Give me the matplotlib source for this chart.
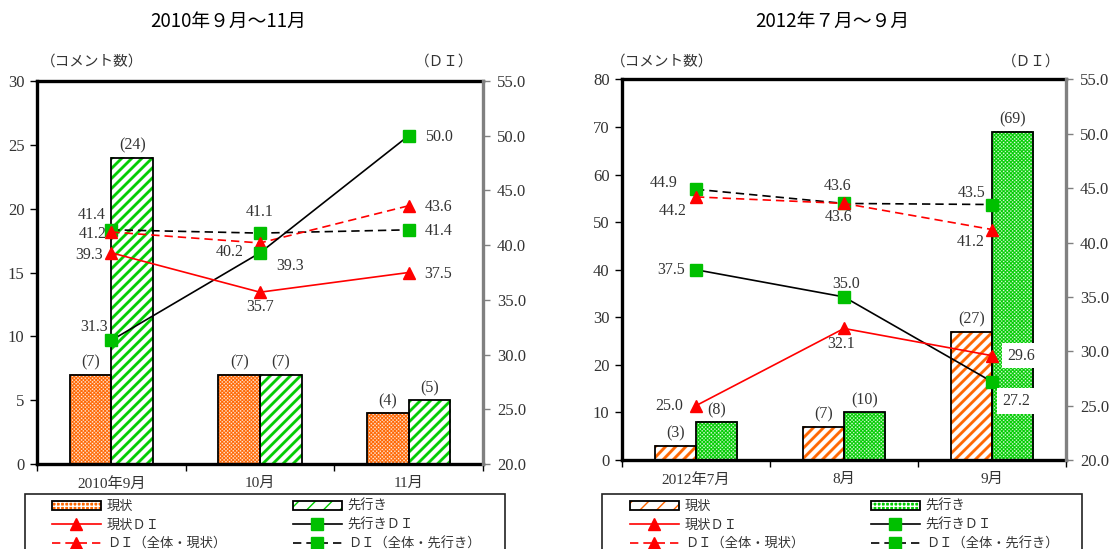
import matplotlib
matplotlib.use("Agg")
import matplotlib.pyplot as plt
from matplotlib.patches import Rectangle
from matplotlib.legend_handler import HandlerTuple
from matplotlib.ticker import FormatStrFormatter, FixedLocator, NullFormatter
from matplotlib.colors import to_rgb
import numpy as np

plt.rcParams['font.family'] = ['Liberation Serif', 'Noto Sans CJK JP', 'DejaVu Sans']

TEXT = '#333333'
ORANGE = '#FF6600'
GREEN = '#00CC00'
MARK_GREEN = '#00C000'
RED = '#FF0000'
GRAY = '#808080'

# ---------------- data ----------------
months_2010 = ["2010年9月", "10月", "11月"]
now_count_2010 = [7, 7, 4]
outlook_count_2010 = [24, 7, 5]
now_di_2010 = [39.3, 35.7, 37.5]
outlook_di_2010 = [31.3, 39.3, 50.0]
total_now_di_2010 = [41.2, 40.2, 43.6]
total_outlook_di_2010 = [41.4, 41.1, 41.4]

months_2012 = ["2012年7月", "8月", "9月"]
now_count_2012 = [3, 7, 27]
outlook_count_2012 = [8, 10, 69]
now_di_2012 = [25.0, 32.1, 29.6]
outlook_di_2012 = [37.5, 35.0, 27.2]
total_now_di_2012 = [44.2, 43.6, 41.2]
total_outlook_di_2012 = [44.9, 43.6, 43.5]

count_ticks_2010 = [0, 5, 10, 15, 20, 25, 30]
count_ticks_2012 = [0, 10, 20, 30, 40, 50, 60, 70, 80]
di_ticks = [20.0, 25.0, 30.0, 35.0, 40.0, 45.0, 50.0, 55.0]

legend_labels_left = ["現状", "現状ＤＩ", "ＤＩ（全体・現状）"]
legend_labels_right = ["先行き", "先行きＤＩ", "ＤＩ（全体・先行き）"]

# ---------------- layout (pixels) ----------------
W, H = 1114, 549
fig = plt.figure(figsize=(W / 100, H / 100), dpi=100)


def fx(px):
    return px / W


def fy(py):
    return 1 - py / H


# value-label placement: (dx px, dy px up, ha, boxed)
labels_2010 = {
    'total_out': [(-6, 15, 'right', False), (0, 21, 'center', False), (16, -1, 'left', False)],
    'total_now': [(-5, -2, 'right', False), (-16, -9, 'right', False), (16, -1, 'left', False)],
    'now':       [(-8, -2, 'right', False), (0, -15, 'center', False), (16, -1, 'left', False)],
    'out':       [(-3, 13, 'right', False), (16, -13, 'left', False), (16, -1, 'left', False)],
}
labels_2012 = {
    'total_out': [(-18, 6, 'right', False), (-6, 17, 'center', False), (-7, 12, 'right', False)],
    'total_now': [(-9, -14, 'right', False), (-5, -14, 'center', False), (-7, -12, 'right', False)],
    'now':       [(-13, 0, 'right', False), (-3, -16, 'center', False), (15, 0, 'left', True)],
    'out':       [(-11, 0, 'right', False), (2, 13, 'center', False), (10, -19, 'left', True)],
}


def texture(kind, color, w_px, h_px, ss=5):
    """RGB texture (supersampled) of a checkerboard or diagonal-stripe fill."""
    rows, cols = max(1, int(round(h_px * ss))), max(1, int(round(w_px * ss)))
    v = (np.arange(rows)[:, None] + 0.5) / ss
    u = (np.arange(cols)[None, :] + 0.5) / ss
    if kind == 'checker':
        c, s = 1.8, 1.3
        cx, cy = np.floor(u / c), np.floor(v / c)
        inside = ((u - cx * c) < s) & ((v - cy * c) < s)
        white = (((cx + cy) % 2) == 0) & inside
    else:
        period, band = 10.0, 4.0
        white = ((u + v) % period) >= band
    rgb = np.empty((rows, cols, 3))
    rgb[:] = to_rgb(color)
    rgb[white] = 1.0
    return rgb


def patterned_bars(ax, x, heights, width, color, kind):
    outline = ax.bar(x, heights, width, facecolor='none', edgecolor='black',
                     linewidth=1.3, zorder=3)
    for b in outline:
        x0, y0 = b.get_x(), b.get_y()
        x1, y1 = x0 + b.get_width(), y0 + b.get_height()
        (px0, py0), (px1, py1) = ax.transData.transform([(x0, y0), (x1, y1)])
        img = texture(kind, color, abs(px1 - px0), abs(py1 - py0))
        ax.imshow(img, extent=(x0, x1, y0, y1), origin='upper', aspect='auto',
                  interpolation='antialiased', zorder=2)
    # small proxy patch used for the legend key
    if kind == 'checker':
        proxy = Rectangle((0, 0), 1, 1, facecolor=color, edgecolor='white', linewidth=0,
                          hatch='++++')
    else:
        proxy = Rectangle((0, 0), 1, 1, facecolor='white', edgecolor=color, linewidth=0,
                          hatch='//')
    frame = Rectangle((0, 0), 1, 1, fill=False, edgecolor='black', linewidth=1.3)
    return outline, (proxy, frame)


def draw_panel(box, months, now_cnt, out_cnt, now_di, out_di, tot_now, tot_out,
               count_ticks, now_style, out_style, vlabels, title, title_x,
               caption_left, caption_right, legend_box):
    left, right, top, bottom = box
    ax = fig.add_axes([fx(left), fy(bottom), (right - left) / W, (bottom - top) / H])
    ax2 = ax.twinx()
    ax.set_zorder(1)
    ax2.set_zorder(2)
    ax.patch.set_visible(False)

    x = np.arange(len(months))
    w = 0.28
    ax.set_xlim(-0.5, len(months) - 0.5)
    ax.set_ylim(count_ticks[0], count_ticks[-1])

    now_bars, now_key = patterned_bars(ax, x - w / 2, now_cnt, w, *now_style)
    out_bars, out_key = patterned_bars(ax, x + w / 2, out_cnt, w, *out_style)
    ax.set_xlim(-0.5, len(months) - 0.5)
    ax.set_ylim(count_ticks[0], count_ticks[-1])
    for bars, vals in ((now_bars, now_cnt), (out_bars, out_cnt)):
        for b, v in zip(bars, vals):
            ax.annotate(f"({v})", (b.get_x() + b.get_width() / 2, v),
                        xytext=(0, 12), textcoords='offset pixels',
                        ha='center', va='center', fontsize=11.5, color=TEXT, zorder=4)

    ax.yaxis.set_major_locator(FixedLocator(count_ticks))
    ax.xaxis.set_major_locator(FixedLocator(np.arange(len(months) + 1) - 0.5))
    ax.xaxis.set_major_formatter(NullFormatter())
    ax.xaxis.set_minor_locator(FixedLocator(x))
    ax.set_xticklabels(months, minor=True)
    ax.tick_params(axis='x', which='major', direction='out', length=5, width=1, color='black')
    ax.tick_params(axis='x', which='minor', length=0, pad=9, labelsize=11, labelcolor=TEXT)
    ax.tick_params(axis='y', direction='out', length=5, width=1, pad=4,
                   labelsize=12, labelcolor=TEXT, color='black')

    for s in ('left', 'top', 'bottom'):
        ax.spines[s].set_linewidth(2.4)
        ax.spines[s].set_color('black')
    ax.spines['right'].set_visible(False)
    for s in ('left', 'top', 'bottom'):
        ax2.spines[s].set_visible(False)
    ax2.spines['right'].set_linewidth(2.4)
    ax2.spines['right'].set_color(GRAY)

    ax2.set_ylim(di_ticks[0], di_ticks[-1])
    ax2.yaxis.set_major_locator(FixedLocator(di_ticks))
    ax2.yaxis.set_major_formatter(FormatStrFormatter('%.1f'))
    ax2.tick_params(axis='y', direction='out', length=5, width=1, pad=5,
                    labelsize=12, labelcolor=TEXT, color=GRAY)

    dash = (0, (5, 3))
    series = [
        ('total_out', tot_out, 'black', dash, 's'),
        ('total_now', tot_now, RED, dash, '^'),
        ('out', out_di, 'black', '-', 's'),
        ('now', now_di, RED, '-', '^'),
    ]
    handles = {}
    for key, vals, col, ls, mk in series:
        mcol = MARK_GREEN if mk == 's' else RED
        ms = 8 if mk == 's' else 9
        ln, = ax2.plot(x, vals, color=col, linestyle=ls, linewidth=1.2, marker=mk,
                       markersize=ms, markerfacecolor=mcol, markeredgecolor=mcol,
                       zorder=3)
        handles[key] = ln
        for xi, v, (dx, dy, ha, boxed) in zip(x, vals, vlabels[key]):
            bb = dict(boxstyle='square,pad=0.3', facecolor='white', edgecolor='none') if boxed else None
            ax2.annotate(f"{v:.1f}", (xi, v), xytext=(dx, dy), textcoords='offset pixels',
                         ha=ha, va='center', fontsize=11.5, color=TEXT, bbox=bb, zorder=5)

    # titles and axis captions
    fig.text(fx(title_x), fy(21), title, ha='center', va='center', fontsize=13.5,
             family=['Noto Sans CJK JP'], color='black')
    fig.text(fx(caption_left), fy(62), "（コメント数）", ha='left', va='center',
             fontsize=10.5, color=TEXT, family=['Noto Sans CJK JP'])
    fig.text(fx(caption_right), fy(62), "（ＤＩ）", ha='right', va='center', fontsize=10.5,
             color=TEXT, family=['Noto Sans CJK JP'])

    # legend
    lx0, lx1, ly0, col1_x, col2_x = legend_box
    fig.add_artist(Rectangle((fx(lx0), fy(H + 12)), (lx1 - lx0) / W, (H + 12 - ly0) / H,
                             transform=fig.transFigure, fill=False, edgecolor='#222222',
                             linewidth=1.2, clip_on=False))
    common = dict(loc='upper left', frameon=False, borderpad=0, borderaxespad=0,
                  handlelength=3.7, handleheight=0.6, handletextpad=0.45,
                  labelspacing=0.42, labelcolor=TEXT,
                  prop=dict(family=['Noto Sans CJK JP'], size=9.5),
                  handler_map={tuple: HandlerTuple(ndivide=1, pad=0)})
    fig.legend([now_key, handles['now'], handles['total_now']],
               legend_labels_left, bbox_to_anchor=(fx(col1_x), fy(ly0 + 6)), **common)
    fig.legend([out_key, handles['out'], handles['total_out']],
               legend_labels_right, bbox_to_anchor=(fx(col2_x), fy(ly0 + 6)), **common)
    return ax, ax2


draw_panel((37, 483, 81, 464), months_2010, now_count_2010, outlook_count_2010,
           now_di_2010, outlook_di_2010, total_now_di_2010, total_outlook_di_2010,
           count_ticks_2010, (ORANGE, 'checker'), (GREEN, 'stripes'), labels_2010,
           "2010年９月～11月", 228, 41, 473, (25, 505, 494, 52, 293))

draw_panel((622, 1066, 79.5, 460), months_2012, now_count_2012, outlook_count_2012,
           now_di_2012, outlook_di_2012, total_now_di_2012, total_outlook_di_2012,
           count_ticks_2012, (ORANGE, 'stripes'), (GREEN, 'checker'), labels_2012,
           "2012年７月～９月", 832, 611, 1060, (602, 1082, 494, 630, 871))

fig.savefig("out.png", dpi=100)
